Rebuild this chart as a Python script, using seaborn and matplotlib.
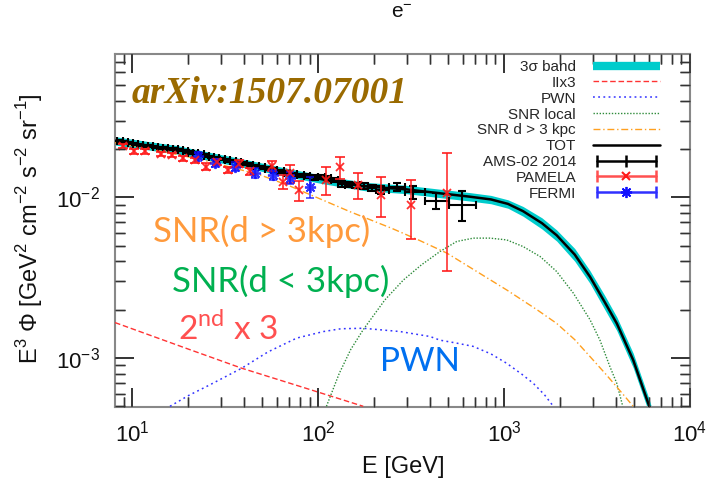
import numpy as np
import matplotlib
matplotlib.use('Agg')
import matplotlib.pyplot as plt
import seaborn as sns
from matplotlib.lines import Line2D
from matplotlib.legend_handler import HandlerLine2D
from matplotlib.ticker import LogLocator, NullFormatter

# ---------------- data ----------------
tot_E = [8.1, 10, 17.4, 26, 43, 70, 107, 178, 300, 450, 650, 850, 1050, 1265,
         1600, 1920, 2400, 2900, 3500, 4040, 4950, 6040, 7000]
tot_y = [0.0225, 0.0217, 0.0198, 0.0180, 0.0160, 0.0142, 0.0129, 0.0117, 0.0112,
         0.0106, 0.0101, 0.0097, 0.0091, 0.0082, 0.0069, 0.0058, 0.0044, 0.0032,
         0.0022, 0.00164, 0.00097, 0.0005, 0.00028]
band_lo = [0.02115, 0.0204, 0.01861, 0.01692, 0.01504, 0.01335, 0.01213, 0.0110,
           0.01053, 0.00996, 0.00949, 0.00912, 0.00855, 0.00763, 0.00635, 0.00534,
           0.0040, 0.00291, 0.00198, 0.00148, 0.00087, 0.00045, 0.00025]
band_hi = [0.02385, 0.0230, 0.02099, 0.01908, 0.01696, 0.01505, 0.01367, 0.0124,
           0.01187, 0.01124, 0.01071, 0.01028, 0.00965, 0.00877, 0.00745, 0.00626,
           0.0048, 0.00349, 0.00242, 0.0018, 0.00107, 0.00055, 0.00031]

sec_E = [8.1, 20, 38.9, 80, 175]
sec_y = [1.66e-3, 1.137e-3, 8.63e-4, 6.65e-4, 5.0e-4]

pwn_E = [16, 20.1, 26.2, 38.9, 53.8, 76.9, 107, 133, 175, 276, 400, 453, 550, 683,
         850, 1034, 1250, 1437, 1650, 1842]
pwn_y = [5.0e-4, 5.83e-4, 6.8e-4, 8.63e-4, 1.09e-3, 1.33e-3, 1.46e-3, 1.52e-3,
         1.53e-3, 1.46e-3, 1.36e-3, 1.29e-3, 1.24e-3, 1.18e-3, 1.06e-3, 9.26e-4,
         7.9e-4, 6.95e-4, 5.9e-4, 5.0e-4]

loc_E = [111, 130, 150, 175, 229, 288, 360, 453, 557, 684, 841, 1034, 1265, 1563,
         1920, 2360, 2900, 3280, 3715, 4040, 4350]
loc_y = [5.0e-4, 8.0e-4, 1.13e-3, 1.5e-3, 2.3e-3, 3.06e-3, 3.8e-3, 4.6e-3, 5.31e-3,
         5.57e-3, 5.57e-3, 5.43e-3, 4.94e-3, 4.28e-3, 3.45e-3, 2.53e-3, 1.73e-3,
         1.29e-3, 8.8e-4, 6.95e-4, 5.0e-4]

far_E = [8.1, 10, 17.4, 26, 48.7, 70, 100, 150, 250, 350, 492, 700, 1034, 1500,
         1920, 2400, 2900, 3500, 4040, 4950, 6000]
far_y = [0.0219, 0.0210, 0.0185, 0.0167, 0.0138, 0.0118, 0.0099, 0.0081, 0.0064,
         0.0054, 0.0045, 0.0035, 0.00265, 0.0020, 0.00164, 0.00130, 0.00102,
         0.00080, 0.00066, 0.0005, 0.00037]

ams_E = [8.6, 9.2, 9.8, 10.4, 11.1, 11.8, 12.5, 13.3, 14.2, 15.1, 16.1, 17.1, 18.2,
         19.4, 20.7, 22.0, 23.5, 25.0, 26.7, 28.5, 30.5, 32.6, 34.9, 37.4, 40.1,
         43.1, 46.3, 49.8, 53.7, 58.0, 62.7, 67.9, 73.7, 80.1, 87.2, 95.1, 104,
         113, 123, 134, 146, 160, 176, 195, 217, 265, 325, 431, 597]
ams_y = [0.0224, 0.0222, 0.0219, 0.0216, 0.0213, 0.0210, 0.0208, 0.0206, 0.0204,
         0.0202, 0.0200, 0.0199, 0.0196, 0.0193, 0.0190, 0.0188, 0.0185, 0.0182,
         0.0179, 0.0176, 0.0173, 0.0170, 0.0168, 0.0165, 0.0162, 0.0160, 0.0157,
         0.0154, 0.0151, 0.0148, 0.0145, 0.0142, 0.0139, 0.0137, 0.0135, 0.0133,
         0.0134, 0.0131, 0.0128, 0.0121, 0.0120, 0.0119, 0.0118, 0.0114, 0.0111,
         0.0116, 0.0108, 0.00955, 0.00898]
ams_err = [0.0003, 0.0003, 0.0003, 0.0003, 0.0003, 0.0003, 0.0003,
           0.0003, 0.0003, 0.0003, 0.0003, 0.0003, 0.0003, 0.0003, 0.0003, 0.0003,
           0.0003, 0.0003, 0.0003, 0.0003, 0.0003, 0.0003, 0.0003, 0.0003, 0.0003,
           0.0003, 0.0003, 0.0003, 0.0003, 0.00035, 0.00035, 0.00035, 0.00035,
           0.00035, 0.0004, 0.0004, 0.0004, 0.0004, 0.0004, 0.00045, 0.00045,
           0.00045, 0.0005, 0.0005, 0.0006, 0.0007, 0.0010, 0.0011, 0.0019]
ams_first_edge = 8.3
ams_last_edge = 707

pam_E = [8.9, 10.3, 11.7, 14.4, 16.5, 18.9, 21.8, 24.9, 28.5, 33, 37.6, 43, 56.9,
         65, 70.6, 79.4, 111, 131, 165, 219, 318, 492]
pam_y = [0.0209, 0.0193, 0.0193, 0.01866, 0.0184, 0.01754, 0.01696, 0.01555,
         0.0167, 0.01483, 0.0162, 0.01448, 0.0157, 0.01254, 0.01416, 0.0111,
         0.01286, 0.0154, 0.01197, 0.01036, 0.00898, 0.0106]
pam_elo = [0.0006, 0.0006, 0.0006, 0.0006, 0.0006, 0.0006, 0.0006, 0.0007, 0.0007,
           0.0007, 0.0008, 0.0008, 0.0011, 0.0013, 0.0018, 0.0016, 0.0025, 0.0024,
           0.0022, 0.0028, 0.0035, 0.0071]
pam_ehi = [0.0006, 0.0006, 0.0006, 0.0006, 0.0006, 0.0006, 0.0006, 0.0007, 0.0007,
           0.0007, 0.0008, 0.0008, 0.0011, 0.0013, 0.0018, 0.0016, 0.0025, 0.0024,
           0.0022, 0.0031, 0.0039, 0.0082]

fer_E = [22.7, 27.8, 35.8, 45.8, 57.2, 70.6, 90.6]
fer_y = [0.01795, 0.01633, 0.01555, 0.01416, 0.0138, 0.0132, 0.01167]
fer_err = [0.0012, 0.0010, 0.0010, 0.0010, 0.0010, 0.0011, 0.0017]

legend_labels = ['3σ band', 'IIx3', 'PWN', 'SNR local', 'SNR d > 3 kpc', 'TOT',
                 'AMS-02 2014', 'PAMELA', 'FERMI']

# ---------------- style ----------------
sns.set_theme(style='ticks')
plt.rcParams['font.family'] = ['Liberation Sans', 'DejaVu Sans']
plt.rcParams['mathtext.fontset'] = 'dejavusans'
plt.rcParams.update({
    'xtick.direction': 'in', 'ytick.direction': 'in',
    'xtick.top': True, 'ytick.right': True,
    'xtick.major.size': 14, 'ytick.major.size': 14,
    'xtick.minor.size': 7, 'ytick.minor.size': 7,
})

W, H = 709, 488
AX_W, AX_H = 575, 353
fig = plt.figure(figsize=(W / 100, H / 100), dpi=100)
ax = fig.add_axes([115 / W, 1 - 407 / H, AX_W / W, AX_H / H])
ax.set_xscale('log')
ax.set_yscale('log')

C_BAND = '#00CCCC'
C_SEC = '#FF3333'
C_PWN = '#3333FF'
C_LOC = '#2E8B3A'
C_FAR = '#FFA020'
C_PAM = '#FF1A1A'
C_FER = '#1010FF'
C_TICK = '#333333'
STAR = (8, 2, 0)

ax.fill_between(tot_E, band_lo, band_hi, color=C_BAND, lw=0, zorder=2)
sns.lineplot(x=sec_E, y=sec_y, ax=ax, color=C_SEC, lw=1.0, linestyle=(0, (4, 2)),
             sort=False, estimator=None, zorder=3)
sns.lineplot(x=pwn_E, y=pwn_y, ax=ax, color=C_PWN, lw=1.1, linestyle=(0, (1.2, 2.2)),
             sort=False, estimator=None, zorder=3)
sns.lineplot(x=loc_E, y=loc_y, ax=ax, color=C_LOC, lw=1.0, linestyle=(0, (1, 1.2)),
             sort=False, estimator=None, zorder=3)
sns.lineplot(x=far_E, y=far_y, ax=ax, color=C_FAR, lw=1.0, linestyle=(0, (5, 2, 1, 2)),
             sort=False, estimator=None, zorder=3)
sns.lineplot(x=tot_E, y=tot_y, ax=ax, color='black', lw=1.8,
             sort=False, estimator=None, zorder=4)

aE = np.array(ams_E)
mids = np.sqrt(aE[:-1] * aE[1:])
edges_lo = np.concatenate([[ams_first_edge], mids])
edges_hi = np.concatenate([mids, [ams_last_edge]])
ax.errorbar(ams_E, ams_y, xerr=[aE - edges_lo, edges_hi - aE], yerr=ams_err,
            fmt='none', ecolor='black', elinewidth=1.5, capsize=3, capthick=1.5,
            zorder=6)
ax.errorbar(pam_E, pam_y, yerr=[pam_elo, pam_ehi], fmt='x', color=C_PAM, ms=6,
            mew=1.3, elinewidth=1.2, capsize=3.5, capthick=1.2, alpha=0.9, zorder=7)
ax.errorbar(fer_E, fer_y, yerr=fer_err, fmt='none', ecolor=C_FER,
            elinewidth=1.2, capsize=3, capthick=1.2, alpha=0.8, zorder=7)
ax.plot(fer_E, fer_y, ls='none', marker=STAR, ms=8, mew=1.3, color=C_FER,
        alpha=0.85, zorder=7)

XLIM = (8.1, 1e4)
YLIM = (4.95e-4, 0.078)
ax.set_xlim(*XLIM)
ax.set_ylim(*YLIM)
ax.set_xlabel('')
ax.set_ylabel('')

maj_loc = LogLocator(base=10, numticks=10)
min_loc = LogLocator(base=10, subs=np.arange(2, 10), numticks=40)
ax.xaxis.set_major_locator(maj_loc)
ax.xaxis.set_minor_locator(LogLocator(base=10, subs=np.arange(2, 10), numticks=40))
ax.yaxis.set_major_locator(LogLocator(base=10, numticks=10))
ax.yaxis.set_minor_locator(LogLocator(base=10, subs=np.arange(2, 10), numticks=40))
ax.xaxis.set_minor_formatter(NullFormatter())
ax.yaxis.set_minor_formatter(NullFormatter())
for s in ax.spines.values():
    s.set_color('#888888')
    s.set_linewidth(1.5)

ax.tick_params(which='both', direction='in', top=True, right=True,
               bottom=True, left=True, color=C_TICK, labelcolor='#111111')
ax.tick_params(which='major', length=14, width=1.2, labelsize=16)
ax.tick_params(which='minor', length=7, width=1.0)
ax.tick_params(axis='x', which='major', pad=10)
ax.tick_params(axis='y', which='major', pad=11)

# inward tick marks on all four sides, drawn as plain line segments at the
# locator's positions (guarantees they render)
MAJ_PX, MIN_PX = 19.4, 9.7
xt = ax.get_xaxis_transform()
yt = ax.get_yaxis_transform()


def inside(vals, lim):
    return [v for v in vals if lim[0] * 0.999 <= v <= lim[1] * 1.001]


x_major = inside(LogLocator(base=10, numticks=10).tick_values(*XLIM), XLIM)
x_minor = inside(LogLocator(base=10, subs=np.arange(2, 10), numticks=40).tick_values(*XLIM), XLIM)
y_major = inside(LogLocator(base=10, numticks=10).tick_values(*YLIM), YLIM)
y_minor = inside(LogLocator(base=10, subs=np.arange(2, 10), numticks=40).tick_values(*YLIM), YLIM)

for vals, px, lw in ((x_major, MAJ_PX, 1.2), (x_minor, MIN_PX, 1.0)):
    f = px / AX_H
    for v in vals:
        for y0, y1 in ((0, f), (1 - f, 1)):
            ax.add_artist(Line2D([v, v], [y0, y1], transform=xt, color=C_TICK,
                                 lw=lw, clip_on=False, zorder=9,
                                 solid_capstyle='butt'))
for vals, px, lw in ((y_major, MAJ_PX, 1.2), (y_minor, MIN_PX, 1.0)):
    f = px / AX_W
    for v in vals:
        for x0, x1 in ((0, f), (1 - f, 1)):
            ax.add_artist(Line2D([x0, x1], [v, v], transform=yt, color=C_TICK,
                                 lw=lw, clip_on=False, zorder=9,
                                 solid_capstyle='butt'))
ax.set_xlim(*XLIM)
ax.set_ylim(*YLIM)

# legend
h_band = Line2D([], [], color=C_BAND, lw=6, solid_capstyle='butt')
h_sec = Line2D([], [], color=C_SEC, lw=1.0, linestyle=(0, (4, 2)))
h_pwn = Line2D([], [], color=C_PWN, lw=1.1, linestyle=(0, (1.2, 2.2)))
h_loc = Line2D([], [], color=C_LOC, lw=1.0, linestyle=(0, (1, 1.2)))
h_far = Line2D([], [], color=C_FAR, lw=1.0, linestyle=(0, (5, 2, 1, 2)))
h_tot = Line2D([], [], color='black', lw=1.8)
h_ams = Line2D([], [], color='black', lw=1.8, marker='|', ms=9, mew=1.8)
h_pam_c = Line2D([], [], color='#FF5050', lw=1.8, marker='|', ms=9, mew=1.8)
h_pam_m = Line2D([], [], color=C_PAM, ls='none', marker='x', ms=6, mew=1.5)
h_fer_c = Line2D([], [], color='#3030FF', lw=1.8, marker='|', ms=9, mew=1.8)
h_fer_m = Line2D([], [], color=C_FER, ls='none', marker=STAR, ms=8, mew=1.3)
hmap = {h_ams: HandlerLine2D(numpoints=3), h_pam_c: HandlerLine2D(numpoints=2),
        h_fer_c: HandlerLine2D(numpoints=2), h_pam_m: HandlerLine2D(numpoints=1),
        h_fer_m: HandlerLine2D(numpoints=1)}
leg = ax.legend(handles=[h_band, h_sec, h_pwn, h_loc, h_far, h_tot, h_ams,
                         (h_pam_c, h_pam_m), (h_fer_c, h_fer_m)],
                labels=legend_labels, handler_map=hmap, loc='upper right',
                bbox_to_anchor=(0.948, 0.983), frameon=False, markerfirst=False,
                fontsize=11, handlelength=4.4, handletextpad=1.1,
                labelspacing=0.12, borderpad=0, borderaxespad=0)
leg.set_zorder(10)


def fx(px):
    return px / W


def fy(py):
    return 1 - py / H


fig.text(fx(402), fy(13), r'e$^{\mathdefault{-}}$', ha='center', va='center',
         fontsize=15, color='#111111')
fig.text(fx(403), fy(467), 'E [GeV]', ha='center', va='center', fontsize=17,
         color='#111111')
fig.text(fx(30), fy(229),
         r'E$^{\mathdefault{3}}$ Φ [GeV$^{\mathdefault{2}}$ cm$^{\mathdefault{-2}}$ '
         r's$^{\mathdefault{-2}}$ sr$^{\mathdefault{-1}}$]',
         ha='center', va='center', rotation=90, fontsize=17, color='#111111')

fig.text(fx(132), fy(103), 'arXiv:1507.07001', fontsize=27, color='#9A6A00',
         family='Liberation Serif', weight='bold', style='italic',
         ha='left', va='baseline')
fig.text(fx(153), fy(242), 'SNR(d > 3kpc)', fontsize=25, color='#FF9A3C',
         family='Lato', ha='left', va='baseline')
fig.text(fx(172), fy(292), 'SNR(d < 3kpc)', fontsize=25, color='#00B050',
         family='Lato', ha='left', va='baseline')
fig.text(fx(178), fy(340), r'2$^{\mathdefault{nd}}$ x 3', fontsize=24,
         color='#FF5050', family='Lato', ha='left', va='baseline')
fig.text(fx(380), fy(371), 'PWN', fontsize=24, color='#0070F0', family='Lato',
         ha='left', va='baseline')

fig.savefig('out.png', dpi=100)
